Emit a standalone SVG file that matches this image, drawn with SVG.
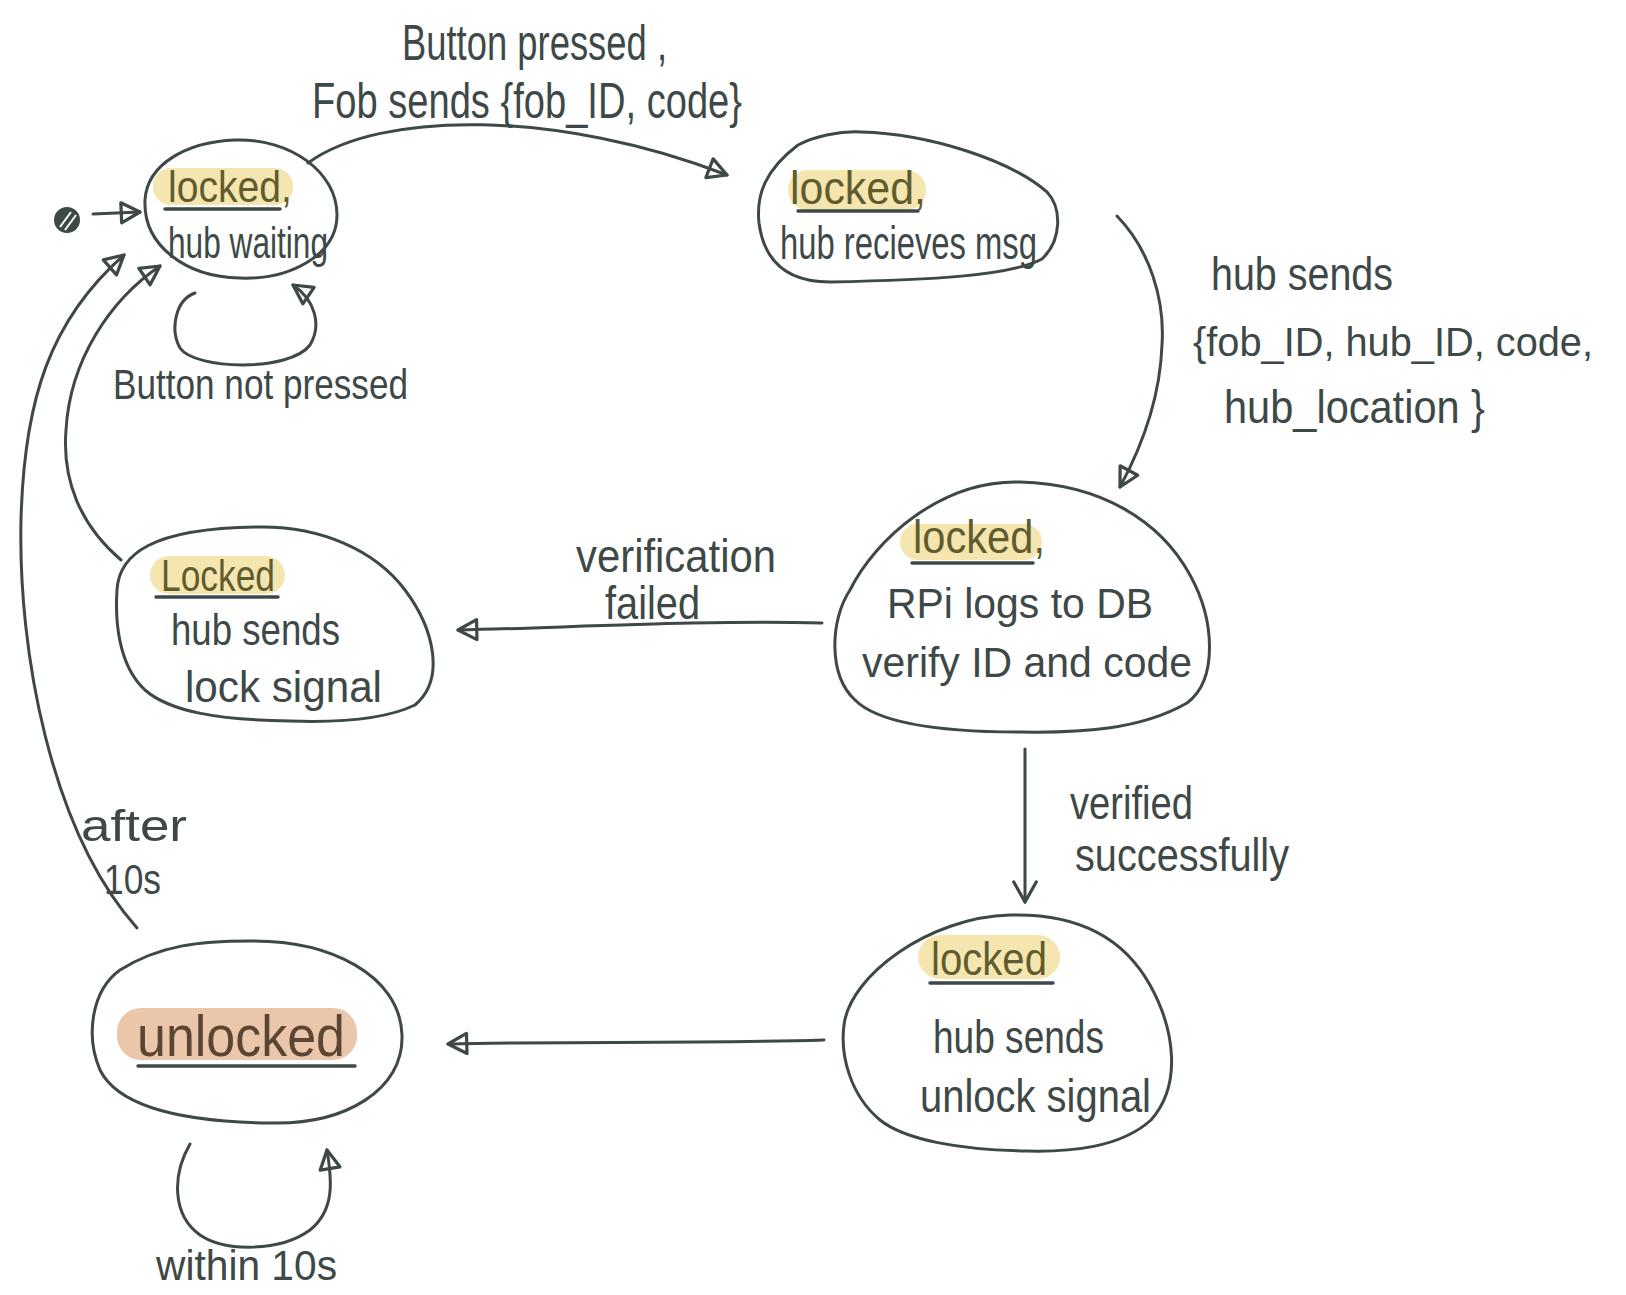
<svg xmlns="http://www.w3.org/2000/svg" width="1626" height="1295" viewBox="0 0 1626 1295">
<defs>
<style>
.n{fill:none;stroke:#3e4947;stroke-width:3;stroke-linecap:round;stroke-linejoin:round}
.c{fill:none;stroke:#3e4947;stroke-width:3;stroke-linecap:round;stroke-linejoin:round}
.ul{stroke:#3e4947;stroke-width:3.5;stroke-linecap:round}
.hl{fill:#f5e6b0}
.hlo{fill:#eac6ab}
text{font-family:"Liberation Sans Narrow","Liberation Sans",Arial,sans-serif;fill:#3e4947}
.k{fill:#615c2f}
.ko{fill:#5a4632}
</style>
<marker id="ah" viewBox="0 0 24 24" refX="20" refY="12" markerWidth="30" markerHeight="30" markerUnits="userSpaceOnUse" orient="auto">
<path d="M5,4 L20,12 L5,20 Z" fill="none" stroke="#3e4947" stroke-width="2.6" stroke-linejoin="round"/>
</marker>
<marker id="av" viewBox="0 0 24 24" refX="20" refY="12" markerWidth="30" markerHeight="30" markerUnits="userSpaceOnUse" orient="auto">
<path d="M4,3 L20,12 L4,21" fill="none" stroke="#3e4947" stroke-width="2.6" stroke-linecap="round" stroke-linejoin="round"/>
</marker>
</defs>
<rect width="1626" height="1295" fill="#ffffff"/>

<g id="connectors">
<g id="init">
<circle cx="67" cy="220" r="13" fill="#3e4947"/>
<line x1="60" y1="227" x2="71" y2="212" stroke="#ffffff" stroke-width="2"/>
<line x1="65" y1="230" x2="76" y2="215" stroke="#ffffff" stroke-width="2"/>
<path class="c" d="M93,214 L140,212" marker-end="url(#ah)"/>
</g>
<path class="c" d="M308,163 C380,110 560,110 727,175" marker-end="url(#ah)"/>
<path class="c" d="M1117,216 C1150,250 1165,300 1162,345 C1160,400 1140,450 1120,487" marker-end="url(#ah)"/>
<path class="c" d="M822,623 C700,620 560,628 458,630" marker-end="url(#ah)"/>
<path class="c" d="M1025,749 L1025,902" marker-end="url(#av)"/>
<path class="c" d="M824,1040 C700,1044 550,1041 448,1044" marker-end="url(#ah)"/>
<path class="c" d="M195,293 C175,300 170,330 180,348 C195,370 290,372 310,345 C322,325 315,300 293,285" marker-end="url(#ah)"/>
<path class="c" d="M190,1144 C172,1175 172,1215 200,1235 C225,1252 280,1252 310,1230 C335,1210 332,1180 327,1150" marker-end="url(#ah)"/>
<path class="c" d="M137,928 C50,830 18,650 21,520 C24,400 50,320 124,255" marker-end="url(#ah)"/>
<path class="c" d="M121,560 C80,525 62,480 66,430 C70,360 110,300 160,266" marker-end="url(#ah)"/>
<text x="402" y="60" font-size="50" textLength="265" lengthAdjust="spacingAndGlyphs">Button pressed ,</text>
<text x="312" y="118" font-size="50" textLength="430" lengthAdjust="spacingAndGlyphs">Fob sends {fob_ID, code}</text>
<text x="113" y="399" font-size="42" textLength="295" lengthAdjust="spacingAndGlyphs">Button not pressed</text>
<text x="1211" y="290" font-size="46" textLength="182" lengthAdjust="spacingAndGlyphs">hub sends</text>
<text x="1193" y="356" font-size="40" textLength="400" lengthAdjust="spacingAndGlyphs">{fob_ID, hub_ID, code,</text>
<text x="1224" y="423" font-size="46" textLength="261" lengthAdjust="spacingAndGlyphs">hub_location }</text>
<text x="576" y="572" font-size="46" textLength="200" lengthAdjust="spacingAndGlyphs">verification</text>
<text x="605" y="619" font-size="46" textLength="95" lengthAdjust="spacingAndGlyphs">failed</text>
<text x="1070" y="819" font-size="46" textLength="123" lengthAdjust="spacingAndGlyphs">verified</text>
<text x="1075" y="871" font-size="46" textLength="214" lengthAdjust="spacingAndGlyphs">successfully</text>
<text x="81" y="841" font-size="44" textLength="106" lengthAdjust="spacingAndGlyphs">after</text>
<text x="104" y="894" font-size="42" textLength="57" lengthAdjust="spacingAndGlyphs">10s</text>
<text x="156" y="1280" font-size="42" textLength="181" lengthAdjust="spacingAndGlyphs">within 10s</text>
</g>

<g id="node-hub-waiting">
<path class="n" d="M235,140 C290,138 337,172 337,215 C337,255 290,280 240,278 C185,277 143,245 145,200 C147,165 185,142 235,140 Z"/>
<rect class="hl" x="153" y="168" width="140" height="37" rx="18"/>
<text class="k" x="168" y="202" font-size="44" textLength="124" lengthAdjust="spacingAndGlyphs">locked,</text>
<line class="ul" x1="165" y1="209" x2="280" y2="209"/>
<text x="168" y="258" font-size="44" textLength="160" lengthAdjust="spacingAndGlyphs">hub waiting</text>
</g>

<g id="node-hub-receives">
<path class="n" d="M861,132 C930,134 1010,160 1047,192 C1062,208 1062,240 1042,259 C1010,276 930,280 830,282 C795,282 765,268 759,223 C756,195 765,170 798,145 C815,136 840,131 861,132 Z"/>
<rect class="hl" x="788" y="170" width="138" height="40" rx="20"/>
<text class="k" x="790" y="204" font-size="46" textLength="136" lengthAdjust="spacingAndGlyphs">locked,</text>
<line class="ul" x1="798" y1="211" x2="918" y2="211"/>
<text x="780" y="259" font-size="46" textLength="257" lengthAdjust="spacingAndGlyphs">hub recieves msg</text>
</g>

<g id="node-rpi-verify">
<path class="n" d="M1020,482 C1100,484 1160,520 1190,575 C1215,620 1218,680 1187,703 C1140,730 1080,733 1020,732 C950,732 880,725 855,700 C828,675 830,620 850,590 C875,540 940,480 1020,482 Z"/>
<rect class="hl" x="900" y="524" width="142" height="36" rx="18"/>
<text class="k" x="913" y="553" font-size="46" textLength="132" lengthAdjust="spacingAndGlyphs">locked,</text>
<line class="ul" x1="912" y1="563" x2="1033" y2="563"/>
<text x="887" y="618" font-size="42" textLength="266" lengthAdjust="spacingAndGlyphs">RPi logs to DB</text>
<text x="862" y="677" font-size="42" textLength="330" lengthAdjust="spacingAndGlyphs">verify ID and code</text>
</g>

<g id="node-lock-signal">
<path class="n" d="M259,527 C320,526 375,550 405,590 C435,630 445,680 415,705 C380,722 320,722 290,721 C220,720 170,712 145,690 C118,665 115,620 117,590 C119,555 150,528 259,527 Z"/>
<rect class="hl" x="150" y="556" width="135" height="38" rx="19"/>
<text class="k" x="161" y="591" font-size="44" textLength="114" lengthAdjust="spacingAndGlyphs">Locked</text>
<line class="ul" x1="156" y1="597" x2="278" y2="597"/>
<text x="171" y="645" font-size="44" textLength="169" lengthAdjust="spacingAndGlyphs">hub sends</text>
<text x="185" y="702" font-size="44" textLength="197" lengthAdjust="spacingAndGlyphs">lock signal</text>
</g>

<g id="node-unlock-signal">
<path class="n" d="M1010,915 C1080,913 1125,940 1150,985 C1175,1030 1182,1085 1151,1120 C1120,1148 1070,1152 1027,1151 C960,1150 905,1140 880,1120 C850,1095 840,1055 844,1025 C850,975 930,917 1010,915 Z"/>
<rect class="hl" x="918" y="935" width="142" height="44" rx="22"/>
<text class="k" x="931" y="975" font-size="46" textLength="116" lengthAdjust="spacingAndGlyphs">locked</text>
<line class="ul" x1="930" y1="983" x2="1053" y2="983"/>
<text x="933" y="1053" font-size="46" textLength="171" lengthAdjust="spacingAndGlyphs">hub sends</text>
<text x="920" y="1112" font-size="46" textLength="231" lengthAdjust="spacingAndGlyphs">unlock signal</text>
</g>

<g id="node-unlocked">
<path class="n" d="M250,941 C330,940 400,975 402,1035 C404,1090 345,1125 270,1123 C190,1122 120,1110 100,1070 C85,1035 92,990 120,970 C160,945 200,941 250,941 Z"/>
<rect class="hlo" x="117" y="1008" width="240" height="52" rx="24"/>
<text class="ko" x="137" y="1056" font-size="58" textLength="208" lengthAdjust="spacingAndGlyphs">unlocked</text>
<line class="ul" x1="138" y1="1066" x2="355" y2="1066"/>
</g>
</svg>
